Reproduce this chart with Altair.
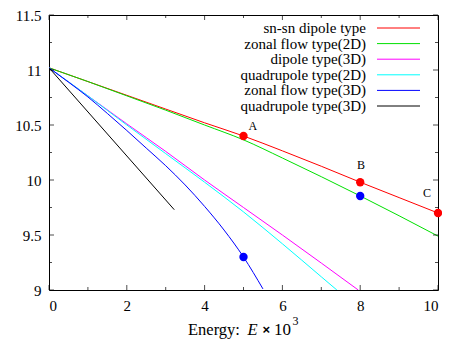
import altair as alt
import pandas as pd

series_names = ["sn-sn dipole type", "zonal flow type(2D)", "dipole type(3D)",
                "quadrupole type(2D)", "zonal flow type(3D)", "quadrupole type(3D)"]
series_colors = ["#ff0000", "#00e000", "#ff00ff", "#00ffff", "#0000ff", "#000000"]

sn_x = [0, 1, 2, 3, 4, 5, 6, 7, 8, 9, 10]
sn_y = [11.02, 10.895, 10.77, 10.645, 10.52, 10.40, 10.265, 10.125, 9.98, 9.84, 9.70]
z2_x = [0, 1, 2, 3, 4, 5, 6, 7, 8, 9, 10]
z2_y = [11.02, 10.895, 10.765, 10.635, 10.50, 10.365, 10.20, 10.03, 9.855, 9.675, 9.49]
d3_x = [0, 1, 2, 3, 4, 5, 6, 7, 7.95]
d3_y = [11.02, 10.765, 10.51, 10.26, 10.0, 9.75, 9.50, 9.245, 9.0]
q2_x = [0, 1, 2, 3, 4, 5, 6, 7, 7.4]
q2_y = [11.02, 10.765, 10.50, 10.24, 9.98, 9.71, 9.42, 9.12, 9.0]
z3_x = [0, 0.5, 1, 1.5, 2, 2.5, 3, 3.5, 4, 4.5, 5, 5.5]
z3_y = [11.02, 10.89, 10.755, 10.605, 10.45, 10.29, 10.13, 9.955, 9.76, 9.545, 9.30, 9.01]
q3_x = [0, 3.22]
q3_y = [11.02, 9.73]

pt_x = [5, 8, 10, 5, 8]
pt_y = [10.40, 9.98, 9.70, 9.30, 9.855]
pt_c = ["#ff0000", "#ff0000", "#ff0000", "#0000ff", "#0000ff"]

lab_text = ["A", "B", "C"]
lab_x = [5.24, 8.02, 9.72]
lab_y = [10.49, 10.14, 9.88]

x_major = [0, 2, 4, 6, 8, 10]
x_minor = [1, 3, 5, 7, 9]
y_major = [9, 9.5, 10, 10.5, 11, 11.5]
y_minor = [9.25, 9.75, 10.25, 10.75, 11.25]

title_parts = ["Energy:", "E", "×", "10", "3"]

W, H = 389, 275

rows = []
for name, xs_, ys_ in zip(series_names, [sn_x, z2_x, d3_x, q2_x, z3_x, q3_x],
                          [sn_y, z2_y, d3_y, q2_y, z3_y, q3_y]):
    for i, (a, b) in enumerate(zip(xs_, ys_)):
        rows.append({"series": name, "x": a, "y": b, "idx": i})
df = pd.DataFrame(rows)

FONT = "Liberation Serif"

X = alt.X("x:Q", scale=alt.Scale(domain=[0, 10], nice=False),
          axis=alt.Axis(values=x_major, title=None, labelExpr="'' + datum.value"))
Y = alt.Y("y:Q", scale=alt.Scale(domain=[9, 11.5], nice=False),
          axis=alt.Axis(values=y_major, title=None, labelExpr="'' + datum.value"))

lines = alt.Chart(df).mark_line(strokeWidth=1, clip=True, interpolate="monotone").encode(
    x=X, y=Y,
    color=alt.Color("series:N", scale=alt.Scale(domain=series_names, range=series_colors), legend=None),
    order="idx:Q",
)

pts = alt.Chart(pd.DataFrame({"x": pt_x, "y": pt_y, "c": pt_c})).mark_circle(size=70, opacity=1).encode(
    x=X, y=Y, color=alt.Color("c:N", scale=None),
)

labs = alt.Chart(pd.DataFrame({"x": lab_x, "y": lab_y, "t": lab_text})).mark_text(
    font=FONT, fontSize=12, color="black").encode(x=X, y=Y, text="t:N")

def xticks(vals, size, ypix):
    return alt.Chart(pd.DataFrame({"x": vals})).mark_tick(
        orient="vertical", size=size, thickness=1, color="black").encode(x=X, y=alt.value(ypix))

def yticks(vals, size, xpix):
    return alt.Chart(pd.DataFrame({"y": vals})).mark_tick(
        orient="horizontal", size=size, thickness=1, color="black").encode(y=Y, x=alt.value(xpix))

ticks = [
    xticks(x_major, 5, H - 2.5), xticks(x_minor, 3, H - 1.5),
    xticks(x_major, 5, 2.5), xticks(x_minor, 3, 1.5),
    yticks(y_major, 5, 2.5), yticks(y_minor, 3, 1.5),
    yticks(y_major, 5, W - 2.5), yticks(y_minor, 3, W - 1.5),
]

inner = alt.layer(lines, *ticks, pts, labs)

leg_df = pd.DataFrame({"series": series_names, "color": series_colors})
LY = alt.Y("series:N", scale=alt.Scale(type="point", domain=series_names, range=[13, 91], padding=0),
           axis=None)
leg_text = alt.Chart(leg_df).mark_text(align="right", baseline="middle", font=FONT,
                                       fontSize=15, color="black").encode(
    y=LY, x=alt.value(317), text="series:N")
leg_rule = alt.Chart(leg_df).mark_rule(strokeWidth=1).encode(
    y=LY, x=alt.value(328), x2=alt.value(371), color=alt.Color("color:N", scale=None))

# x-axis title, assembled from parts (italic E, superscript 3)
one = pd.DataFrame({"k": [0]})
def tpart(txt, xpix, ypix, size, style="normal", font=FONT, weight="normal"):
    return alt.Chart(one).mark_text(text=txt, align="left", baseline="alphabetic", font=font,
                                    fontSize=size, fontStyle=style, fontWeight=weight,
                                    color="black").encode(
        x=alt.value(xpix), y=alt.value(ypix))

title_layers = [
    tpart(title_parts[0], 139, 320, 16.5),
    tpart(title_parts[1], 198.5, 320, 16.5, style="italic"),
    tpart(title_parts[2], 213.5, 319, 13, font="Liberation Sans", weight="bold"),
    tpart(title_parts[3], 225, 320, 17),
    tpart(title_parts[4], 243.5, 310, 12),
]

chart = alt.layer(inner, leg_text, leg_rule, *title_layers).resolve_scale(
    x="independent", y="independent"
).properties(
    width=W, height=H,
    autosize=alt.AutoSizeParams(type="none"),
    padding={"left": 41, "top": 7, "right": 4, "bottom": 50},
).configure_view(stroke="black", strokeWidth=1).configure_axis(
    grid=False, domain=False, ticks=False, labelFont=FONT, labelFontSize=15,
    labelColor="black", labelPadding=8,
)

chart.save("out.html", embed_options={"renderer": "svg", "actions": False})
